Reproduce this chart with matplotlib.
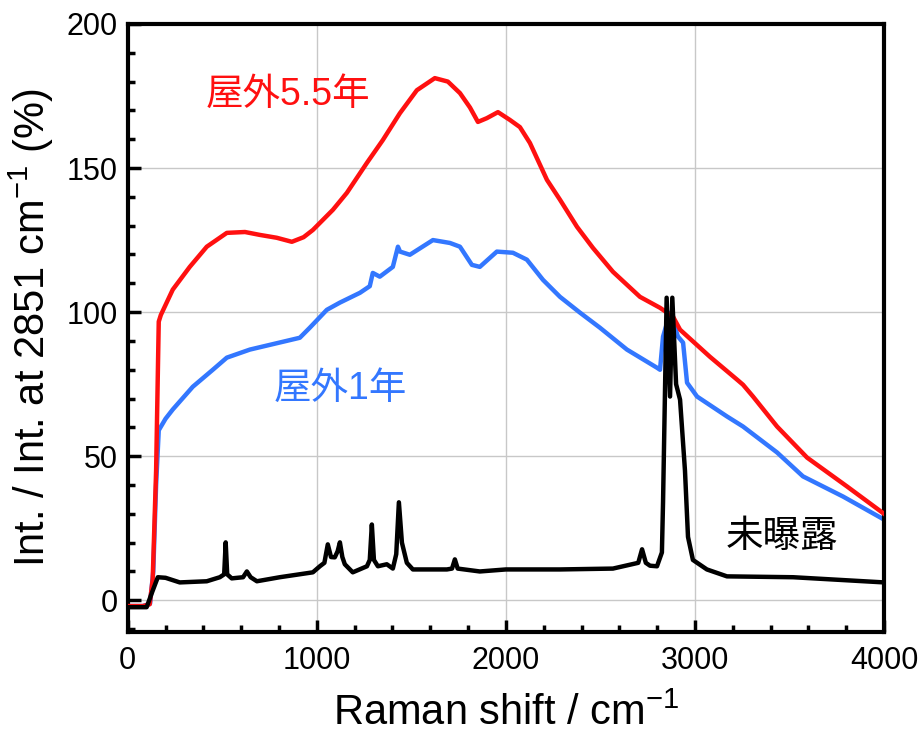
import matplotlib.pyplot as plt
import numpy as np

# Raman spectra normalised to the 2851 cm-1 band
x_55 = [0, 80, 116, 132, 150, 164, 175, 238, 328, 418, 524, 620, 698, 788, 868,
        930, 979, 1085, 1159, 1265, 1349, 1439, 1529, 1624, 1693, 1757, 1810,
        1852, 1899, 1958, 2021, 2074, 2127, 2217, 2286, 2376, 2460, 2566, 2709,
        2815, 2884, 2921, 3079, 3222, 3254, 3307, 3434, 3593, 3804, 4000]
y_55 = [-2, -2, -1.4, 7.3, 45, 96.7, 99, 107.8, 115.7, 122.7, 127.5, 127.8, 126.8,
        125.8, 124.4, 126, 128.5, 135.5, 141.4, 151.8, 159.7, 169, 177, 181.2,
        180, 176, 171, 166, 167.3, 169.4, 166.7, 164.2, 158.7, 145.9, 139, 129.6,
        122.3, 114, 105.3, 101.5, 98.4, 93.9, 84.5, 76.6, 74.8, 70.7, 60.3, 49.5,
        39.5, 30]

x_1 = [0, 80, 118, 135, 150, 164, 200, 238, 344, 450, 524, 646, 820, 910, 963,
       1053, 1122, 1228, 1280, 1296, 1333, 1402, 1429, 1440, 1492, 1614, 1704,
       1757, 1820, 1862, 1952, 2037, 2111, 2196, 2286, 2392, 2497, 2640, 2799,
       2815, 2831, 2868, 2910, 2937, 2958, 3011, 3169, 3254, 3434, 3571, 3783, 4000]
y_1 = [-2, -2, -1.2, 10, 40, 59, 63, 66.2, 74.1, 80, 84.2, 87, 89.7, 91.1, 94.6,
       100.8, 103.3, 106.7, 109, 113.6, 112.3, 115.7, 122.7, 121, 119.9, 125, 124,
       122.7, 116.4, 115.7, 121, 120.6, 118.2, 111.2, 105.3, 99.8, 94.6, 87, 80.7,
       80, 91.5, 99.8, 91.5, 89.4, 75.5, 70.7, 63.8, 60.3, 51.3, 43, 36, 28]

x_0 = [0, 100, 130, 159, 200, 275, 418, 487, 510, 518, 526, 550, 610, 630, 650,
       683, 804, 979, 1016, 1040, 1058, 1075, 1095, 1110, 1122, 1135, 1148, 1190,
       1265, 1280, 1291, 1302, 1323, 1370, 1402, 1420, 1434, 1450, 1476, 1508,
       1688, 1715, 1730, 1745, 1862, 2000, 2286, 2566, 2700, 2720, 2740, 2762,
       2799, 2825, 2831, 2850, 2868, 2880, 2900, 2921, 2947, 2963, 2989, 3063,
       3169, 3519, 4000]
y_0 = [-2.4, -2.4, 3, 8, 7.8, 6.2, 6.6, 8, 9, 20.1, 9, 7.6, 8, 10, 8,
       6.6, 8, 9.7, 11.8, 13, 19.4, 15, 14.9, 17, 20.1, 15, 12.5, 9.7,
       11.8, 14, 26.3, 14, 11.8, 12.5, 11, 16, 34, 20, 13, 10.7,
       10.7, 11, 14.2, 11, 10, 10.7, 10.7, 11, 13, 17.7, 13, 12,
       11.8, 16.6, 34, 105, 70.7, 105, 75, 69.6, 45, 22, 14, 10.7,
       8.3, 8, 6.2]

xticks = [0, 1000, 2000, 3000, 4000]
yticks = [0, 50, 100, 150, 200]

plt.rcParams['font.family'] = ['Liberation Sans', 'Noto Sans CJK JP']

fig = plt.figure(figsize=(9.19, 7.37), dpi=100)
ax = fig.add_axes([0.139, 0.1425, 0.823, 0.825])

ax.plot(x_55, y_55, color='#ff1010', lw=3.2, zorder=3)
ax.plot(x_1, y_1, color='#3377ff', lw=3.2, zorder=2)
ax.plot(x_0, y_0, color='black', lw=3.2, zorder=4)

ax.set_xlim(0, 4000)
ax.set_ylim(-11, 200)
ax.set_xticks(xticks)
ax.set_yticks(yticks)
ax.set_xticks(np.arange(0, 4001, 200), minor=True)
ax.set_yticks(np.arange(-10, 201, 10), minor=True)
ax.grid(True, which='major', color='#c8c8c8', lw=1.0)
ax.set_axisbelow(True)

for s in ax.spines.values():
    s.set_linewidth(3)
ax.tick_params(which='major', direction='in', length=9, width=2.5,
               labelsize=22, top=False, right=False)
ax.tick_params(which='minor', direction='in', length=5, width=2.5,
               top=False, right=False)
ax.tick_params(axis='x', which='major', pad=10)
ax.tick_params(axis='y', which='major', pad=7)

ax.set_xlabel('Raman shift / cm$^{\\mathregular{-1}}$', fontsize=30, labelpad=13)
ax.set_ylabel('Int. / Int. at 2851 cm$^{\\mathregular{-1}}$ (%)', fontsize=30,
              labelpad=8)

ax.text(410, 172, '屋外5.5年', color='#ff1010', fontsize=27)
ax.text(770, 70, '屋外1年', color='#3377ff', fontsize=27)
ax.text(3160, 18.5, '未曝露', color='black', fontsize=27)

fig.savefig('out.png', dpi=100)
